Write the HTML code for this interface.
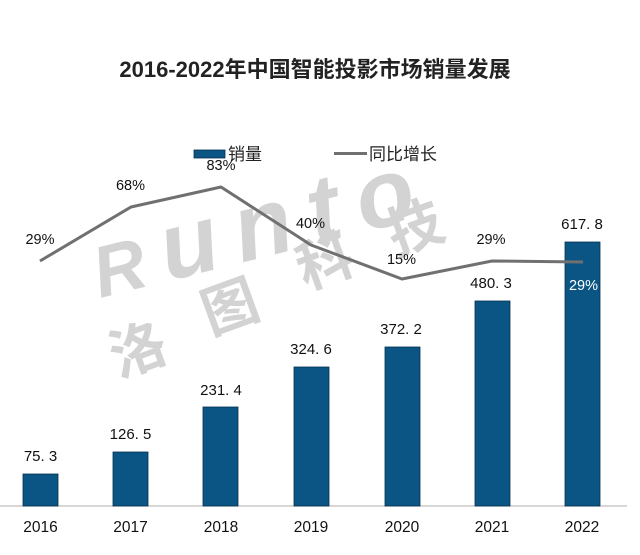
<!DOCTYPE html>
<html><head><meta charset="utf-8"><style>
html,body{margin:0;padding:0;background:#fff;}
svg{display:block;}
</style></head><body>
<svg width="640" height="555" viewBox="0 0 640 555" xmlns="http://www.w3.org/2000/svg">
<rect width="640" height="555" fill="#fff"/>
<!-- watermark -->
<g fill="#d3d3d3" font-family="Liberation Sans, sans-serif" font-weight="bold" font-style="italic">
  <text transform="translate(100,298) rotate(-14)" font-size="95" letter-spacing="18"><tspan font-size="72">R</tspan>unto</text>
</g>
<g fill="#d3d3d3" font-family="'Liberation Sans','Noto Sans CJK SC',sans-serif" font-weight="bold" font-size="56" text-anchor="middle">
  <text transform="translate(138,350) rotate(-20)" dominant-baseline="central">洛</text>
  <text transform="translate(230,307) rotate(-20)" dominant-baseline="central">图</text>
  <text transform="translate(325,262) rotate(-20)" dominant-baseline="central">科</text>
  <text transform="translate(415,228) rotate(-20)" dominant-baseline="central">技</text>
</g>
<!-- title -->
<text x="315" y="77" text-anchor="middle" font-family="'Liberation Sans','Noto Sans CJK SC',sans-serif" font-weight="bold" font-size="22" fill="#222">2016-2022年中国智能投影市场销量发展</text>
<!-- legend -->
<rect x="194" y="150" width="31" height="8" fill="#0b5585" stroke="#06304f" stroke-width="0.8"/>
<text x="228" y="160" font-family="'Liberation Sans','Noto Sans CJK SC',sans-serif" font-size="17" fill="#222">销量</text>
<line x1="334" y1="153.5" x2="367" y2="153.5" stroke="#707070" stroke-width="3"/>
<text x="369" y="160" font-family="'Liberation Sans','Noto Sans CJK SC',sans-serif" font-size="17" fill="#222">同比增长</text>
<!-- axis -->
<line x1="0" y1="506" x2="627" y2="506" stroke="#bfbfbf" stroke-width="1.2"/>
<!-- bars -->
<g fill="#0b5585" stroke="#06304f" stroke-width="0.8">
  <rect x="23" y="474" width="35" height="32"/>
  <rect x="113" y="452" width="35" height="54"/>
  <rect x="203" y="407" width="35" height="99"/>
  <rect x="294" y="367" width="35" height="139"/>
  <rect x="385" y="347" width="35" height="159"/>
  <rect x="475" y="301" width="35" height="205"/>
  <rect x="565" y="242" width="35" height="264"/>
</g>
<!-- value labels -->
<g font-family="'Liberation Sans',sans-serif" font-size="15" fill="#111" text-anchor="middle">
  <text x="40.5" y="461">75. 3</text>
  <text x="130.5" y="439">126. 5</text>
  <text x="221" y="395">231. 4</text>
  <text x="311" y="354">324. 6</text>
  <text x="401" y="334">372. 2</text>
  <text x="491" y="288">480. 3</text>
  <text x="582" y="229">617. 8</text>
</g>
<!-- line -->
<polyline points="40,261 131,207 221,187 311,245 402,279 492,261 583,262" fill="none" stroke="#707070" stroke-width="3" stroke-linejoin="round"/>
<!-- percent labels -->
<g font-family="'Liberation Sans',sans-serif" font-size="14.5" fill="#111" text-anchor="middle">
  <text x="40" y="244">29%</text>
  <text x="130.5" y="190">68%</text>
  <text x="221" y="170">83%</text>
  <text x="310.5" y="228">40%</text>
  <text x="401.5" y="264">15%</text>
  <text x="491" y="244">29%</text>
  <text x="583.5" y="290" fill="#fff">29%</text>
</g>
<!-- x labels -->
<g font-family="'Liberation Sans',sans-serif" font-size="15.5" fill="#111" text-anchor="middle">
  <text x="40.5" y="532">2016</text>
  <text x="130.5" y="532">2017</text>
  <text x="221" y="532">2018</text>
  <text x="311" y="532">2019</text>
  <text x="402" y="532">2020</text>
  <text x="492" y="532">2021</text>
  <text x="582" y="532">2022</text>
</g>
</svg>
</body></html>
